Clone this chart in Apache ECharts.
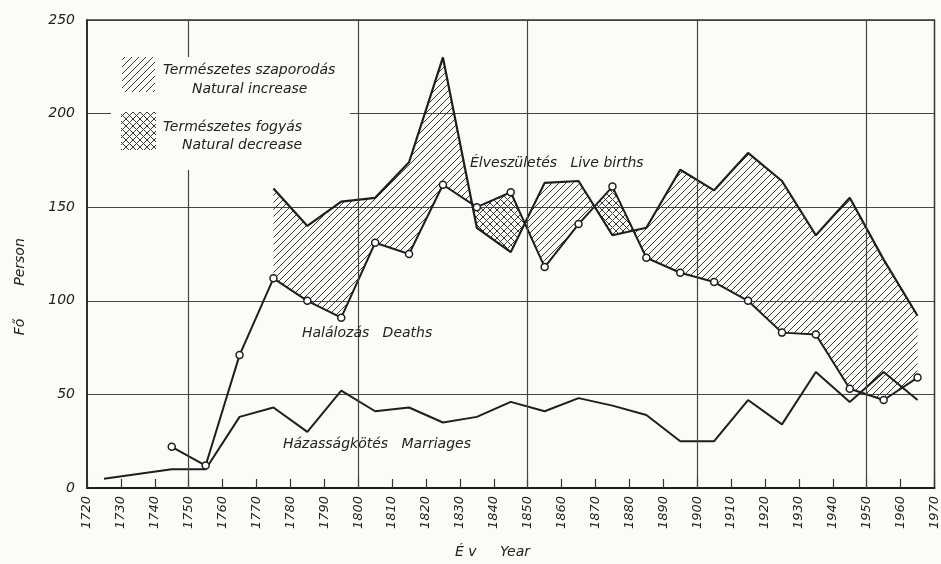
<!DOCTYPE html>
<html>
<head>
<meta charset="utf-8">
<script src="https://cdn.jsdelivr.net/npm/echarts@6/dist/echarts.min.js"></script>
<style>
html,body{margin:0;padding:0;background:#fbfbf8;}
#chart{width:941px;height:564px;}
</style>
</head>
<body>
<div id="chart"></div>
<script>
// ---- data (mid-decade points) ----
const years     = [1725,1735,1745,1755,1765,1775,1785,1795,1805,1815,1825,1835,1845,1855,1865,1875,1885,1895,1905,1915,1925,1935,1945,1955,1965];
const births    = [null,null,null,null,null,160,140,153,155,174,230,139,126,163,164,135,139,170,159,179,164,135,155,122,92];
const deaths    = [null,null,22,12,71,112,100,91,131,125,162,150,158,118,141,161,123,115,110,100,83,82,53,47,59];
const marriages = [5,null,10,10,38,43,30,52,41,43,35,38,46,41,48,44,39,25,25,47,34,62,46,62,47];
const majorYears = [1750,1800,1850,1900,1950];

const BG = '#fbfbf8';
const INK = '#1e1e1e';
const FONT = '"DejaVu Sans", sans-serif';

function hatchCanvas(cross, color) {
  const s = 7;
  const c = document.createElement('canvas');
  c.width = s; c.height = s;
  const g = c.getContext('2d');
  g.strokeStyle = color; g.lineWidth = 1;
  g.beginPath();
  g.moveTo(0, s); g.lineTo(s, 0);
  g.moveTo(-1, 1); g.lineTo(1, -1);
  g.moveTo(s - 1, s + 1); g.lineTo(s + 1, s - 1);
  if (cross) {
    g.moveTo(0, 0); g.lineTo(s, s);
    g.moveTo(-1, s - 1); g.lineTo(1, s + 1);
    g.moveTo(s - 1, -1); g.lineTo(s + 1, 1);
  }
  g.stroke();
  return c;
}
const hatchPat = {image: hatchCanvas(false, '#3a3a3a'), repeat: 'repeat'};
const crossPat = {image: hatchCanvas(true, '#3a3a3a'), repeat: 'repeat'};

const segData = [];
for (let i = 0; i < years.length - 1; i++) {
  const v = [births[i], births[i + 1], deaths[i], deaths[i + 1]];
  if (v.every(x => x != null)) segData.push([years[i], years[i + 1], births[i], births[i + 1], deaths[i], deaths[i + 1]]);
}

function renderBand(params, api) {
  const x0 = api.value(0), x1 = api.value(1);
  const b0 = api.value(2), b1 = api.value(3), d0 = api.value(4), d1 = api.value(5);
  const B0 = api.coord([x0, b0]), B1 = api.coord([x1, b1]);
  const D0 = api.coord([x0, d0]), D1 = api.coord([x1, d1]);
  const s0 = b0 - d0, s1 = b1 - d1;
  const children = [];
  const poly = (pts, s) => ({type: 'polygon', shape: {points: pts}, style: {fill: s >= 0 ? hatchPat : crossPat, stroke: null}});
  if (s0 * s1 >= 0) {
    children.push(poly([B0, B1, D1, D0], s0 + s1));
  } else {
    const t = s0 / (s0 - s1);
    const P = [B0[0] + t * (B1[0] - B0[0]), B0[1] + t * (B1[1] - B0[1])];
    children.push(poly([B0, P, D0], s0));
    children.push(poly([P, B1, D1], s1));
  }
  return {type: 'group', children};
}

const chart = echarts.init(document.getElementById('chart'), null, {renderer: 'canvas'});
const txt = (text, x, y, size, extra) => Object.assign({
  type: 'text', x: x, y: y, z: 12,
  style: {text: text, font: 'italic ' + size + 'px ' + FONT, fill: '#222',
          textVerticalAlign: 'middle', verticalAlign: 'middle'}
}, extra || {});
const vtxt = (text, x, y) => ({
  type: 'text', x: x, y: y, z: 12, rotation: Math.PI / 2,
  style: {text: text, font: 'italic 14px ' + FONT, fill: '#222', textAlign: 'center', align: 'center',
          textVerticalAlign: 'middle', verticalAlign: 'middle'}
});

chart.setOption({
  backgroundColor: BG,
  animation: false,
  grid: {left: 87, right: 4, top: 20, bottom: 76, show: true, borderColor: '#333', borderWidth: 1.5, backgroundColor: 'transparent'},
  xAxis: {
    type: 'value', min: 1720, max: 1970, interval: 10,
    axisLine: {show: true, lineStyle: {color: INK, width: 1.8}},
    axisTick: {show: true, inside: true, length: 9, lineStyle: {color: '#333', width: 1.2}},
    axisLabel: {rotate: 90, fontStyle: 'italic', fontSize: 13, fontFamily: FONT, color: '#222', margin: 8,
                formatter: v => String(v)},
    splitLine: {show: false}
  },
  yAxis: {
    type: 'value', min: 0, max: 250, interval: 50,
    axisLine: {show: true, lineStyle: {color: INK, width: 1.5}},
    axisTick: {show: false},
    axisLabel: {fontStyle: 'italic', fontSize: 14, fontFamily: FONT, color: '#222', margin: 12},
    splitLine: {show: true, lineStyle: {color: '#444', width: 1.2}}
  },
  series: [
    {type: 'custom', renderItem: renderBand, data: segData, encode: {x: [0, 1], y: [2, 3, 4, 5]}, z: 1, silent: true, clip: true},
    {type: 'line', name: 'Élveszületés', data: years.map((y, i) => [y, births[i]]), showSymbol: false,
     lineStyle: {color: INK, width: 2.2}, z: 3, silent: true},
    {type: 'line', name: 'Halálozás', data: years.map((y, i) => [y, deaths[i]]), symbol: 'circle', symbolSize: 7, showAllSymbol: true,
     itemStyle: {color: '#fff', borderColor: INK, borderWidth: 1.5}, lineStyle: {color: INK, width: 2}, z: 4, silent: true},
    {type: 'line', name: 'Házasságkötés', data: years.map((y, i) => [y, marriages[i]]), showSymbol: false, connectNulls: true,
     lineStyle: {color: INK, width: 2}, z: 3, silent: true,
     markLine: {silent: true, symbol: ['none', 'none'], label: {show: false}, lineStyle: {color: '#444', width: 1.2, type: 'solid'},
                data: majorYears.map(y => ({xAxis: y}))}}
  ],
  graphic: [
    {type: 'rect', shape: {x: 111, y: 57, width: 239, height: 113}, style: {fill: BG}, z: 10},
    {type: 'rect', shape: {x: 122, y: 57, width: 33, height: 35}, style: {fill: hatchPat}, z: 11},
    {type: 'rect', shape: {x: 121, y: 112, width: 35, height: 38}, style: {fill: crossPat}, z: 11},
    txt('Természetes szaporodás', 163, 70, 14),
    txt('Natural increase', 192, 89, 14),
    txt('Természetes fogyás', 163, 127, 14),
    txt('Natural decrease', 182, 145, 14),
    txt('Élveszületés   Live births', 470, 163, 14),
    txt('Halálozás   Deaths', 302, 333, 14),
    txt('Házasságkötés   Marriages', 283, 444, 14),
    vtxt('Person', 20, 262),
    vtxt('Fő', 20, 327),
    txt('É v', 455, 552, 14),
    txt('Year', 500, 552, 14)
  ]
});
</script>
</body>
</html>
